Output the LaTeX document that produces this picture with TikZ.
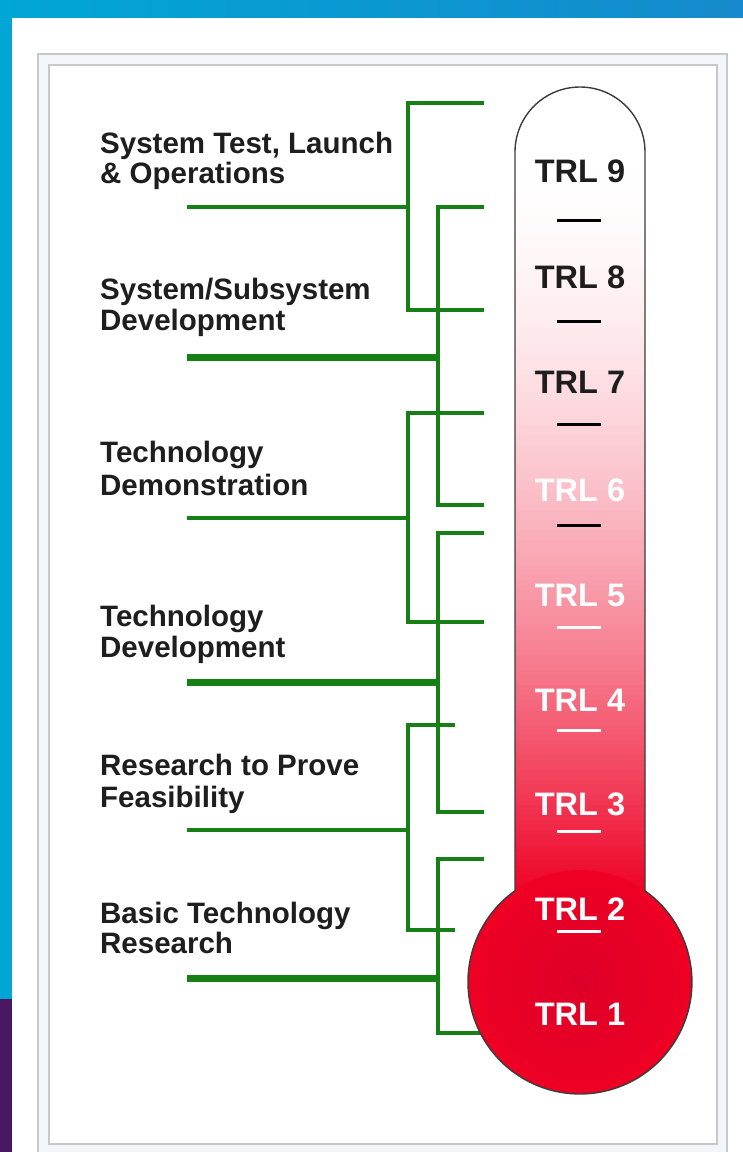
\documentclass[tikz,border=0pt]{standalone}
\usepackage{fontspec}
\setmainfont{Liberation Sans}
\definecolor{bandblue}{RGB}{0,166,214}
\definecolor{bandblue2}{RGB}{22,138,204}
\definecolor{purp}{RGB}{72,24,96}
\definecolor{framegray}{RGB}{200,200,204}
\definecolor{framefill}{RGB}{243,245,249}
\definecolor{grn}{RGB}{22,128,22}
\definecolor{thermred}{RGB}{238,0,36}
\definecolor{thermdark}{RGB}{222,0,40}
\definecolor{outl}{RGB}{60,60,60}
\definecolor{txt}{RGB}{30,30,30}
\tikzset{
  lbl/.style={anchor=base west, inner sep=0pt, text=txt, font=\fontsize{29.5}{31}\selectfont\bfseries},
  trl/.style={anchor=center, inner sep=0pt, font=\fontsize{32.5}{34}\selectfont\bfseries},
  gline/.style={draw=grn, line width=4.5pt, line join=miter, line cap=butt},
  gthick/.style={draw=grn, line width=7pt, line cap=butt},
  dashmark/.style={line width=3pt},
}
\begin{document}
\begin{tikzpicture}[x=1pt,y=-1pt]
\useasboundingbox (0,0) rectangle (743,1152);
% background
\fill[white] (0,0) rectangle (743,1152);
\shade[left color=bandblue, right color=bandblue2] (0,0) rectangle (743,17);
\fill[bandblue] (0,0) rectangle (12,999);
\fill[purp] (0,999) rectangle (12,1152);
% frame
\filldraw[fill=framefill, draw=framegray, line width=1.8pt] (38,54) rectangle (727,1170);
\filldraw[fill=white, draw=framegray, line width=1.8pt] (49,65) rectangle (717,1144);

% bracket coordinates
\coordinate (a1) at (484,103); \coordinate (a2) at (408,103); \coordinate (a3) at (408,310); \coordinate (a4) at (484,310);
\coordinate (am) at (408,207); \coordinate (al) at (187,207);
\coordinate (b1) at (484,207); \coordinate (b2) at (438,207); \coordinate (b3) at (438,505); \coordinate (b4) at (484,505);
\coordinate (bm) at (438,357); \coordinate (bl) at (187,357);
\coordinate (c1) at (484,413); \coordinate (c2) at (408,413); \coordinate (c3) at (408,622); \coordinate (c4) at (484,622);
\coordinate (cm) at (408,518); \coordinate (cl) at (187,518);
\coordinate (d1) at (484,533); \coordinate (d2) at (438,533); \coordinate (d3) at (438,812); \coordinate (d4) at (484,812);
\coordinate (dm) at (438,682); \coordinate (dl) at (187,682);
\coordinate (e1) at (455,725); \coordinate (e2) at (408,725); \coordinate (e3) at (408,930); \coordinate (e4) at (455,930);
\coordinate (em) at (408,830); \coordinate (el) at (187,830);
\coordinate (f1) at (484,859); \coordinate (f2) at (438,859); \coordinate (f3) at (438,1033); \coordinate (f4) at (500,1033);
\coordinate (fm) at (438,978); \coordinate (fl) at (187,978);

\draw[gline] (a1) -- (a2) -- (a3) -- (a4);
\draw[gline] (al) -- (am);
\draw[gline] (b1) -- (b2) -- (b3) -- (b4);
\draw[gthick] (bl) -- (bm);
\draw[gline] (c1) -- (c2) -- (c3) -- (c4);
\draw[gline] (cl) -- (cm);
\draw[gline] (d1) -- (d2) -- (d3) -- (d4);
\draw[gthick] (dl) -- (dm);
\draw[gline] (e1) -- (e2) -- (e3) -- (e4);
\draw[gline] (el) -- (em);
\draw[gline] (f1) -- (f2) -- (f3) -- (f4);
\draw[gthick] (fl) -- (fm);

% thermometer fill
\begin{scope}
\clip (515,890.8) -- (515,152) arc[start angle=180,end angle=360,radius=65] -- (645,890.8) arc[start angle=-54.5,end angle=234.5,radius=112] -- cycle;
\foreach \yy in {85,90,...,900} {
  \pgfmathsetmacro\pp{min(100,100*(max(0.5,\yy-150)/743)^1.75)}
  \fill[thermred!\pp!white] (505,\yy) rectangle (655,\yy+5.6);
}
\shade[inner color=thermdark, outer color=thermred] (580,982) circle[radius=112];
\end{scope}
\draw[outl, line width=1.4pt] (515,890.8) -- (515,152) arc[start angle=180,end angle=360,radius=65] -- (645,890.8) arc[start angle=-54.5,end angle=234.5,radius=112] -- cycle;

% dashes
\foreach \yy in {220,321,424,525} { \draw[dashmark, black] (557,\yy) -- (601,\yy); }
\foreach \yy in {627,730,831,931} { \draw[dashmark, white] (557,\yy) -- (601,\yy); }

% TRL labels
\node[trl, text=txt] (t9) at (580,171) {TRL 9};
\node[trl, text=txt] (t8) at (580,277) {TRL 8};
\node[trl, text=txt] (t7) at (580,382) {TRL 7};
\node[trl, text=white] (t6) at (580,490) {TRL 6};
\node[trl, text=white] (t5) at (580,595) {TRL 5};
\node[trl, text=white] (t4) at (580,700) {TRL 4};
\node[trl, text=white] (t3) at (580,804) {TRL 3};
\node[trl, text=white] (t2) at (580,909) {TRL 2};
\node[trl, text=white] (t1) at (580,1014) {TRL 1};

% left labels
\node[lbl] (l1a) at (100,153) {System Test, Launch};
\node[lbl] (l1b) at (100,183) {\& Operations};
\node[lbl] (l2a) at (100,299) {System/Subsystem};
\node[lbl] (l2b) at (100,330) {Development};
\node[lbl] (l3a) at (100,462) {Technology};
\node[lbl] (l3b) at (100,495) {Demonstration};
\node[lbl] (l4a) at (100,626) {Technology};
\node[lbl] (l4b) at (100,657) {Development};
\node[lbl] (l5a) at (100,775) {Research to Prove};
\node[lbl] (l5b) at (100,807) {Feasibility};
\node[lbl] (l6a) at (100,923) {Basic Technology};
\node[lbl] (l6b) at (100,953) {Research};
\end{tikzpicture}
\end{document}
